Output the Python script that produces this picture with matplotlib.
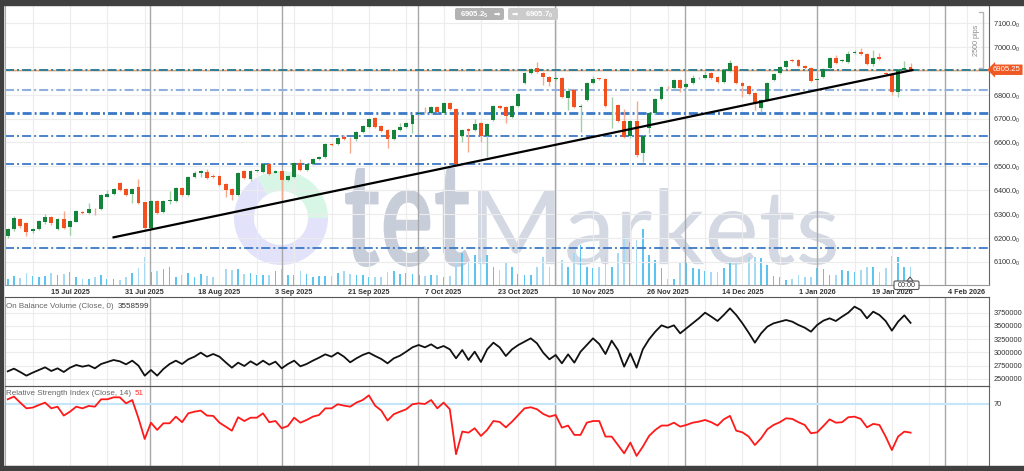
import matplotlib
matplotlib.use("Agg")
import matplotlib.pyplot as plt
from matplotlib.patches import Wedge, PathPatch, Rectangle, FancyBboxPatch, Polygon
from matplotlib.textpath import TextPath
from matplotlib.font_manager import FontProperties
from matplotlib.transforms import Affine2D, blended_transform_factory

plt.rcParams["font.family"] = ["Liberation Sans", "DejaVu Sans"]
plt.rcParams["mathtext.fontset"] = "custom"
plt.rcParams["mathtext.rm"] = "Liberation Sans"
plt.rcParams["mathtext.default"] = "regular"
plt.rcParams["lines.scale_dashes"] = False

W, H = 1024, 471

# --- daily bars (US500) ---
opens = [6208, 6236, 6279, 6262, 6229, 6236, 6268, 6289, 6236, 6278,
         6247, 6268, 6310, 6306, 6323, 6320, 6373, 6383, 6429, 6404,
         6383, 6415, 6349, 6240, 6353, 6307, 6355, 6356, 6410, 6380,
         6454, 6473, 6478, 6461, 6461, 6426, 6405, 6380, 6480, 6447,
         6480, 6478, 6510, 6473, 6480, 6443, 6454, 6515, 6485, 6508,
         6532, 6538, 6594, 6592, 6622, 6619, 6613, 6645, 6666, 6702,
         6671, 6652, 6615, 6652, 6664, 6678, 6718, 6730, 6725, 6750,
         6725, 6767, 6740, 6627, 6657, 6652, 6680, 6627, 6694, 6753,
         6750, 6708, 6753, 6848, 6890, 6911, 6890, 6873, 6865, 6869,
         6785, 6820, 6748, 6778, 6851, 6869, 6866, 6756, 6757, 6690,
         6627, 6690, 6555, 6662, 6725, 6781, 6832, 6830, 6862, 6834,
         6851, 6869, 6869, 6890, 6873, 6855, 6900, 6922, 6848, 6838,
         6807, 6743, 6778, 6862, 6890, 6918, 6946, 6946, 6921, 6911,
         6864, 6876, 6911, 6956, 6943, 6939, 6974, 6981, 6970, 6928,
         6958, 6893, 6886, 6813, 6904, 6916]
closes = [6236, 6282, 6250, 6226, 6237, 6272, 6286, 6261, 6280, 6240,
          6271, 6314, 6306, 6322, 6321, 6378, 6383, 6404, 6401, 6380,
          6404, 6347, 6240, 6353, 6305, 6356, 6357, 6408, 6380, 6455,
          6471, 6479, 6452, 6457, 6422, 6401, 6380, 6473, 6450, 6480,
          6483, 6510, 6468, 6480, 6443, 6461, 6513, 6485, 6508, 6531,
          6539, 6592, 6590, 6619, 6616, 6617, 6645, 6669, 6700, 6666,
          6648, 6615, 6652, 6664, 6680, 6715, 6725, 6728, 6750, 6729,
          6764, 6740, 6510, 6652, 6648, 6678, 6627, 6678, 6753, 6746,
          6711, 6753, 6802, 6890, 6908, 6897, 6873, 6852, 6869, 6792,
          6816, 6750, 6754, 6848, 6866, 6867, 6754, 6758, 6690, 6622,
          6690, 6548, 6627, 6725, 6781, 6832, 6831, 6862, 6830, 6845,
          6869, 6871, 6883, 6872, 6855, 6904, 6932, 6848, 6838, 6803,
          6765, 6778, 6851, 6887, 6918, 6943, 6942, 6921, 6914, 6859,
          6867, 6907, 6956, 6935, 6947, 6971, 6981, 6970, 6928, 6956,
          6951, 6887, 6813, 6904, 6914, 6905.25]
highs = [6240, 6290, 6283, 6265, 6242, 6276, 6300, 6292, 6283, 6314,
         6276, 6318, 6314, 6347, 6326, 6382, 6400, 6408, 6436, 6408,
         6408, 6446, 6352, 6357, 6357, 6360, 6395, 6412, 6414, 6458,
         6482, 6485, 6490, 6466, 6465, 6430, 6410, 6476, 6485, 6484,
         6486, 6515, 6514, 6484, 6484, 6465, 6518, 6532, 6512, 6534,
         6542, 6596, 6598, 6623, 6632, 6624, 6650, 6674, 6704, 6706,
         6675, 6656, 6656, 6680, 6684, 6720, 6728, 6750, 6753, 6754,
         6768, 6772, 6745, 6656, 6661, 6700, 6684, 6682, 6757, 6758,
         6754, 6757, 6806, 6894, 6912, 6936, 6894, 6877, 6873, 6873,
         6830, 6824, 6760, 6852, 6880, 6872, 6870, 6790, 6761, 6740,
         6694, 6775, 6631, 6729, 6785, 6836, 6836, 6866, 6866, 6850,
         6885, 6875, 6900, 6895, 6877, 6908, 6945, 6926, 6852, 6842,
         6812, 6782, 6855, 6891, 6922, 6947, 6950, 6950, 6925, 6915,
         6872, 6911, 6960, 6966, 6951, 6985, 6990, 6998, 6974, 6987,
         6975, 6897, 6890, 6908, 6940, 6935]
lows = [6200, 6230, 6240, 6208, 6222, 6232, 6258, 6255, 6232, 6236,
        6212, 6265, 6302, 6302, 6296, 6318, 6370, 6380, 6398, 6375,
        6345, 6343, 6232, 6236, 6300, 6303, 6340, 6352, 6376, 6376,
        6450, 6455, 6448, 6452, 6418, 6370, 6360, 6376, 6445, 6440,
        6478, 6474, 6462, 6470, 6363, 6438, 6450, 6480, 6481, 6504,
        6528, 6534, 6584, 6588, 6612, 6557, 6608, 6640, 6660, 6660,
        6643, 6578, 6610, 6648, 6660, 6640, 6714, 6722, 6720, 6724,
        6720, 6735, 6505, 6603, 6561, 6648, 6601, 6540, 6690, 6742,
        6683, 6704, 6749, 6844, 6886, 6893, 6840, 6838, 6861, 6788,
        6736, 6745, 6645, 6774, 6847, 6863, 6748, 6659, 6685, 6618,
        6620, 6540, 6520, 6640, 6720, 6777, 6826, 6826, 6812, 6830,
        6847, 6865, 6865, 6868, 6850, 6851, 6896, 6844, 6790, 6798,
        6735, 6730, 6774, 6858, 6886, 6914, 6938, 6917, 6910, 6855,
        6860, 6872, 6907, 6930, 6939, 6935, 6970, 6966, 6924, 6920,
        6947, 6883, 6800, 6790, 6900, 6900]
volumes = [570, 900, 670, 1230, 900, 770, 900, 1170, 1000, 1100,
           1330, 770, 630, 630, 830, 1030, 570, 570, 500, 830,
           1170, 1670, 2830, 1330, 1430, 1570, 1830, 830, 1000, 1230,
           830, 1100, 900, 830, 970, 1570, 1500, 1570, 1100, 1170,
           970, 970, 970, 1430, 1630, 1030, 1030, 1430, 1100, 830,
           900, 900, 900, 1170, 1430, 1100, 970, 970, 770, 830,
           830, 1330, 1430, 1100, 1170, 1100, 970, 900, 970, 970,
           830, 900, 2670, 3170, 2170, 3000, 2670, 3000, 1830, 1500,
           2170, 1830, 1100, 1000, 970, 1830, 2830, 1830, 2500, 2500,
           1830, 3170, 4000, 1830, 1670, 1830, 2830, 1830, 3170, 4830,
           4330, 4500, 5570, 3000, 2500, 1670, 570, 570, 2330, 2170,
           1670, 1570, 1430, 1330, 1330, 1670, 2170, 2330, 2330, 2830,
           2830, 2670, 2000, 900, 830, 500, 570, 1000, 770, 830,
           1670, 1570, 970, 970, 1500, 1430, 1330, 1500, 1830, 1830,
           1330, 1670, 2900, 2830, 1830, 1830]
obv = [2644600, 2694800, 2632000, 2562800, 2619400, 2669700, 2719900, 2650800, 2701100, 2632000,
       2713600, 2763900, 2732500, 2757600, 2701100, 2782800, 2820400, 2858200, 2833000, 2776500,
       2845600, 2751300, 2562800, 2669700, 2562800, 2688500, 2782800, 2845600, 2782800, 2870800,
       2921000, 2996400, 2921000, 2971300, 2921000, 2814200, 2713600, 2807800, 2745100, 2833000,
       2763900, 2845600, 2770200, 2826700, 2701100, 2782800, 2845600, 2738800, 2782800, 2845600,
       2902100, 2965000, 2921000, 2996400, 2921000, 2814200, 2889600, 2952400, 2996400, 2933600,
       2877000, 2795300, 2889600, 2939800, 3015200, 3096900, 3140900, 3096900, 3153500, 3078100,
       3122100, 3059200, 2889600, 3046700, 2858200, 3015200, 2820400, 3059200, 3184900, 3096900,
       2933600, 3059200, 3140900, 3203700, 3266500, 3172300, 2996400, 2870800, 2952400, 2795300,
       2965000, 2807800, 3015200, 3140900, 3266500, 3159800, 2971300, 3222500, 3046700, 2732500,
       2983900, 2713600, 3059200, 3247800, 3392200, 3511600, 3467600, 3511600, 3360800, 3455100,
       3549300, 3643600, 3750400, 3675000, 3593300, 3706400, 3832100, 3706400, 3549300, 3373300,
       3184900, 3360800, 3486500, 3549300, 3580700, 3612200, 3580700, 3517900, 3467600, 3392200,
       3517900, 3599600, 3643600, 3593300, 3675000, 3750400, 3863400, 3800700, 3643600, 3769200,
       3706400, 3593300, 3411100, 3580700, 3700200, 3558599]
rsi = [73.1, 74.9, 70.9, 67.1, 67.6, 69.3, 70.9, 67.1, 68.2, 62.3,
       64.9, 68.2, 67.1, 68.7, 68.2, 73.1, 73.1, 74.4, 74.4, 70.4,
       72.6, 60.5, 46.8, 57.6, 52.8, 57.2, 57.2, 61.6, 57.9, 63.8,
       64.9, 65.6, 62.3, 62.1, 57.6, 55.0, 52.3, 61.2, 58.7, 60.9,
       60.9, 63.8, 57.9, 58.7, 53.9, 55.4, 60.9, 57.6, 59.4, 61.6,
       62.7, 67.1, 67.1, 69.8, 68.9, 68.2, 70.9, 72.6, 75.7, 68.9,
       65.6, 59.0, 63.2, 64.9, 66.5, 69.8, 70.4, 70.0, 72.6, 67.1,
       70.9, 66.5, 36.7, 51.7, 51.0, 53.9, 48.8, 52.8, 58.7, 58.1,
       54.5, 58.3, 62.7, 67.1, 67.8, 66.5, 63.4, 61.6, 62.7, 54.3,
       55.7, 49.5, 49.5, 57.6, 58.7, 58.7, 48.4, 48.4, 42.8, 37.3,
       44.4, 35.6, 41.7, 48.8, 52.8, 55.7, 55.7, 57.6, 55.0, 56.1,
       57.6, 58.3, 59.4, 57.9, 55.7, 59.8, 62.1, 52.3, 51.2, 48.4,
       42.8, 47.3, 53.2, 56.1, 57.9, 60.5, 60.1, 57.9, 56.1, 50.6,
       51.2, 55.4, 59.8, 57.6, 57.9, 61.2, 61.6, 60.1, 54.5, 56.8,
       56.1, 48.4, 39.5, 48.4, 51.7, 51.0]

date_labels = ["15 Jul 2025", "31 Jul 2025", "18 Aug 2025", "3 Sep 2025", "21 Sep 2025",
               "7 Oct 2025", "23 Oct 2025", "10 Nov 2025", "26 Nov 2025", "14 Dec 2025",
               "1 Jan 2026", "19 Jan 2026", "4 Feb 2026"]
month_lines = [22.8, 44.0, 65.9, 87.9, 108.8, 130.0, 150.6]   # bar positions of month starts
levels = [6820, 6724, 6626, 6509, 6156]
last_price = 6905.25
trend_x = [17, 145.3]
trend_y = [6202, 6904]
price_ticks = list(range(6100, 7101, 100))
obv_ticks = [2500000, 2750000, 3000000, 3250000, 3500000, 3750000]

GREEN, RED = "#15843b", "#f2511f"
GREEN_W, RED_W = "#9fcfa9", "#f7a98d"
GRID = "#ececec"
DASHDOT = (0, (6.5, 2.2, 1.4, 2.2))
XLIM = (-0.44, 157.6)

idx = list(range(len(closes)))
label_pos = [10 + 12 * k for k in range(len(date_labels))]
minor_pos = [4 + 6 * k for k in range(26)]

fig = plt.figure(figsize=(W / 100, H / 100), dpi=100, facecolor="white")


def px_axes(x0, y0, x1, y1, **kw):
    return fig.add_axes([x0 / W, 1 - y1 / H, (x1 - x0) / W, (y1 - y0) / H], **kw)


def overlay(z):
    o = px_axes(0, 0, W, H, zorder=z)
    o.set_xlim(0, W)
    o.set_ylim(H, 0)
    o.axis("off")
    return o


def word(o, s, box, color, weight):
    tp = TextPath((0, 0), s, size=100, prop=FontProperties(family="Lato", weight=weight))
    e = tp.get_extents()
    x0, y0, x1, y1 = box
    tr = Affine2D().translate(-e.x0, -e.y0).scale((x1 - x0) / e.width, -(y1 - y0) / e.height).translate(x0, y1)
    o.add_patch(PathPatch(tr.transform_path(tp), fc=color, ec="none"))


# watermark
bg = overlay(0)
bg.add_patch(Wedge((281, 218), 47, 0, 240, width=20, fc="#e2e2fa", ec="none"))
bg.add_patch(Wedge((281, 218), 47, 240, 360, width=20, fc="#d8f6e6", ec="none"))
word(bg, "tet", (345, 168, 470, 267), "#c8cdda", "bold")
word(bg, "Markets", (478, 188, 836, 265), "#d3d8e3", "normal")


def style_panel(a):
    a.set_xlim(*XLIM)
    a.patch.set_visible(False)
    a.set_axisbelow(True)
    a.set_xticks(label_pos)
    a.set_xticks(minor_pos, minor=True)
    a.grid(True, which="both", axis="x", color=GRID, lw=0.8)
    a.grid(True, which="major", axis="y", color=GRID, lw=0.8)
    for m in month_lines:
        a.axvline(m, color="#a8a8a8", lw=1, zorder=1)
    a.yaxis.tick_right()
    a.tick_params(axis="both", which="both", length=0)
    a.tick_params(axis="y", pad=3.2, labelsize=5.3, labelcolor="#333333")
    a.spines["top"].set_color("#555555")
    a.spines["left"].set_color("#aaaaaa")
    a.spines["right"].set_color("#666666")
    a.spines["bottom"].set_color("#999999")


# price panel
ax = px_axes(5, 5, 989, 285, zorder=2)
vax = ax.twinx()
vax.set_zorder(1)
vax.patch.set_visible(False)
vax.bar(idx, volumes, width=0.28, color=["#5cc5ef" if c >= o else "#a6daf2" for o, c in zip(opens, closes)], lw=0)
vax.set_ylim(0, 28000)
vax.axis("off")

style_panel(ax)
ax.set_ylim(6002, 7177)
ax.set_yticks(price_ticks)
# the 6900 label sits under the last-price marker
ax.set_yticklabels(["" if v == 6900 else f"{v}.0$_0$" for v in price_ticks])
ax.set_xticklabels(date_labels)
ax.tick_params(axis="x", pad=2.6, labelsize=5.2, labelcolor="#333333")
for t in ax.get_xticklabels():
    t.set_fontweight("bold")
ax.spines["top"].set_visible(False)

level_colors = ["#8fb0e0", "#3b78c8", "#3b78c8", "#3b78c8", "#3b78c8"]
level_widths = [1.5, 2.0, 1.3, 1.3, 1.3]
for lv, col, lw in zip(levels, level_colors, level_widths):
    ax.axhline(lv, color=col, lw=lw, ls=DASHDOT, zorder=2)
ax.axhline(last_price, color="#e9a06a", lw=1.0, zorder=2)
ax.axhline(last_price, color="#2f7f96", lw=1.4, ls=DASHDOT, zorder=2)

up = [c >= o for o, c in zip(opens, closes)]
ax.vlines(idx, lows, highs, colors=[GREEN_W if u else RED_W for u in up], lw=1, zorder=3)
ax.bar(idx, [max(abs(c - o), 2) for o, c in zip(opens, closes)],
       bottom=[min(o, c) for o, c in zip(opens, closes)], width=0.62,
       color=[GREEN if u else RED for u in up], lw=0, zorder=4)
ax.plot(trend_x, trend_y, color="black", lw=1.6, zorder=5)

ax.text(1.004, last_price, "6905.25", transform=blended_transform_factory(ax.transAxes, ax.transData),
        ha="left", va="center", fontsize=5.6, color="white", clip_on=False, zorder=10,
        bbox=dict(boxstyle="larrow,pad=0.22", fc="#ef5a24", ec="none"))

# OBV panel
ox = px_axes(5, 297.3, 989, 385.7, zorder=2)
style_panel(ox)
ox.plot(idx, obv, color="#111111", lw=1.3)
ox.set_ylim(2373700, 4040000)
ox.set_yticks(obv_ticks)
ox.set_yticklabels([str(v) for v in obv_ticks])
ox.set_xticklabels([])
ox.text(0.001, 0.93, "On Balance Volume (Close, 0)", transform=ox.transAxes, fontsize=5.8, color="#666666", va="top")
ox.text(0.1145, 0.93, "3558599", transform=ox.transAxes, fontsize=5.8, color="#333333", va="top")

# RSI panel
rx = px_axes(5, 385.7, 989, 465.7, zorder=2)
style_panel(rx)
rx.grid(False, axis="y")
rx.axhline(70, color="#c4e6f8", lw=1.5, zorder=1)
rx.plot(idx, rsi, color="#ff1a1a", lw=1.3)
rx.set_ylim(29.1, 82.1)
rx.set_yticks([70])
rx.set_yticklabels(["70"])
rx.set_xticklabels([])
rx.text(0.001, 0.95, "Relative Strength Index (Close, 14)", transform=rx.transAxes, fontsize=5.8, color="#666666", va="top")
rx.text(0.1315, 0.95, "51", transform=rx.transAxes, fontsize=5.8, color="#ff2a2a", va="top")

# frame and chart furniture
fg = overlay(10)
fg.add_patch(Rectangle((0, 0), W, 4.5, color="#404040"))
fg.add_patch(Rectangle((0, 0), 2.5, H, color="#404040"))
fg.add_patch(Rectangle((0, 465.7), W, H - 465.7, color="#404040"))
fg.add_patch(FancyBboxPatch((455, 8), 49, 12, boxstyle="round,pad=0,rounding_size=2", fc="#b3b3b3", ec="none"))
fg.add_patch(FancyBboxPatch((508, 8), 50, 12, boxstyle="round,pad=0,rounding_size=2", fc="#cbcbcb", ec="none"))
fg.text(474, 14.5, "6905.2$_5$", ha="center", va="center", fontsize=5.6, color="white", fontweight="bold")
fg.text(497, 14.2, "➡", ha="center", va="center", fontsize=5.6, color="white", family="DejaVu Sans")
fg.text(515, 14.2, "➡", ha="center", va="center", fontsize=5.6, color="white", family="DejaVu Sans")
fg.text(539, 14.5, "6905.7$_0$", ha="center", va="center", fontsize=5.6, color="white", fontweight="bold")
fg.text(976, 40, "2500 pips", rotation=90, ha="center", va="center", fontsize=5.2, color="#8a8a8a")
fg.plot([979, 983, 983, 979], [12, 12, 68, 68], color="#b5b5b5", lw=1)
fg.add_patch(FancyBboxPatch((894, 281), 25, 8.5, boxstyle="round,pad=0,rounding_size=1.5", fc="white", ec="#555555", lw=0.8))
fg.add_patch(Polygon([[907, 281], [910, 277], [913, 281]], closed=True, fc="white", ec="#555555", lw=0.8))
fg.text(906.5, 285.5, "00:00", ha="center", va="center", fontsize=5.2, color="#333333")

fig.savefig("out.png", dpi=100, facecolor="white")
